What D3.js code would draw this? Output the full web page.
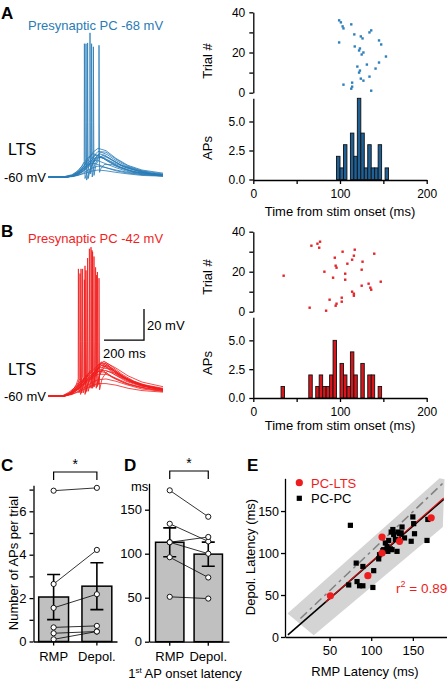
<!DOCTYPE html>
<html><head><meta charset="utf-8">
<script src="https://cdn.jsdelivr.net/npm/d3@7"></script>
<style>body{margin:0;background:#fff}svg{display:block;font-family:"Liberation Sans",Arial,sans-serif}</style>
</head><body><svg id="c" width="447" height="683"></svg>
<script>
// ---------------- DATA ----------------
// Panel A/B voltage traces: subthreshold traces sampled at shared times (ms, mV)
const subTimes = [0,80,120,150,175,200,225,250,290,340,400,470,575];
const subA = [
  [-60,-60,-59,-57,-54,-49,-44,-41.5,-43,-48,-52.5,-55.5,-57.5],
  [-60,-60.3,-59.5,-57.5,-55,-51,-47,-43.5,-44,-48.5,-53,-56,-58],
  [-60,-59.8,-58.5,-56,-52,-47.5,-45,-46,-49,-52.5,-55.5,-57.5,-58.5],
  [-60,-60,-59.5,-58,-56,-52,-48.5,-47,-48.5,-51.5,-54.5,-57,-58.5],
  [-60,-60.2,-59.5,-58.5,-56.5,-53,-49.5,-49.5,-51.5,-54,-56.5,-58,-59],
  [-60,-59.8,-59,-57.5,-55,-52,-51,-52,-54,-56,-57.5,-58.5,-59.2],
  [-60,-60,-59.8,-59,-57.5,-55.5,-54,-53,-54,-55.5,-57,-58.5,-59.3],
  [-60,-60,-59.5,-58.8,-58,-57,-56,-55.5,-56,-57,-58,-59,-59.5]
];
const subB = [
  [-60,-60,-58,-55,-52,-48.5,-45,-42,-41,-44.5,-49,-52.5,-55],
  [-60,-59.8,-57.5,-54.5,-51,-47,-43.5,-40,-38.5,-42,-47,-51,-54],
  [-60,-60,-58.5,-56,-53.5,-50.5,-48,-46,-46,-48.5,-52,-54.5,-56.5],
  [-60,-60.2,-59,-57,-55,-53,-51,-49.5,-49,-50.5,-53,-55.5,-57],
  [-60,-60,-58,-55.5,-52.5,-49.5,-46.5,-44,-43.5,-46.5,-50.5,-53.5,-55.5],
  [-60,-59.8,-58.8,-57.5,-56,-54.5,-53,-52,-52,-53,-55,-56.5,-57.5]
];
// spiking traces: [ms, mV] points
const spikeA = [
  [[0,-60],[80,-60],[120,-59],[150,-56],[170,-53],[181,-50],[182,26],[183.5,-25],[185,-61],[195,-57],[210,-51],[235,-46],[265,-47],[300,-50],[350,-53.5],[420,-56.5],[500,-58],[575,-59]],
  [[0,-60],[90,-60.3],[125,-59],[155,-56],[180,-52.5],[189,-50],[190,26],[191.5,-25],[193,-62],[200,-59],[215,-53],[240,-48],[270,-47],[310,-50],[360,-53.5],[430,-56.5],[510,-58],[575,-59]],
  [[0,-60],[85,-60],[125,-59.5],[160,-56],[185,-52],[197,-49],[198,26.5],[199.5,-25],[201,-61],[210,-56],[230,-49],[255,-45],[285,-46],[320,-49],[370,-52.5],[440,-55.5],[510,-57.5],[575,-58.5]],
  [[0,-60],[90,-60],[130,-59],[165,-55.5],[195,-51],[209,-48],[210,33],[211.5,-25],[213,-58],[220,-53],[240,-47],[265,-44],[295,-45.5],[335,-49],[390,-53],[450,-55.5],[520,-57.5],[575,-58.5]],
  [[0,-60],[95,-60],[135,-59],[170,-56],[200,-51.5],[217,-48],[218,26],[219.5,-25],[221,-60],[230,-53],[250,-48],[275,-46],[310,-48],[360,-52],[420,-55],[490,-57.5],[575,-58.5]],
  [[0,-60],[90,-60.2],[140,-59],[175,-56],[205,-52],[226,-48],[227,24],[228.5,-25],[230,-59],[240,-52],[260,-47.5],[290,-47],[330,-50],[380,-53.5],[450,-56],[520,-58],[575,-59]],
  [[0,-60],[95,-60],[140,-59],[180,-56],[215,-52],[240,-49],[254,-47],[255,25],[256.5,-25],[258,-57],[262,-55],[280,-52],[320,-52],[370,-54.5],[430,-57],[500,-58.5],[575,-59.5]]
];
const spikeB = [
  [[0,-60],[70,-60],[100,-59],[125,-56],[140,-53],[151,-49],[152,22],[153.5,-25],[155,-58],[165,-53],[185,-48],[205,-45],[214,-43],[215,36],[216.5,-25],[218,-55],[230,-47],[250,-42],[280,-44],[320,-48],[380,-51.5],[450,-54],[520,-55.5],[575,-56.5]],
  [[0,-60],[75,-60.3],[105,-58.5],[130,-55],[150,-51.5],[159,-49],[160,19],[161.5,-25],[163,-59],[175,-53],[200,-47],[222,-43],[223,33],[224.5,-25],[226,-54],[240,-45],[260,-40],[290,-41],[330,-46],[390,-50.5],[460,-53.5],[575,-56]],
  [[0,-60],[70,-60],[110,-58],[135,-55.5],[160,-51],[172,-48],[173,22],[174.5,-25],[176,-58],[190,-51],[210,-46],[229,-43],[230,30],[231.5,-25],[233,-54],[245,-44],[265,-38],[300,-40],[340,-45],[400,-50],[470,-53.5],[575,-56]],
  [[0,-60],[80,-60],[115,-58],[140,-55],[165,-51.5],[181,-48],[182,15],[183.5,-25],[185,-59],[200,-52],[225,-47],[255,-44],[290,-45],[340,-49],[400,-52.5],[480,-55],[575,-57]],
  [[0,-60],[75,-60],[110,-58.5],[140,-55],[170,-51],[189,-47.5],[190,21],[191.5,-25],[193,-57],[205,-50],[230,-45],[246,-42],[247,20],[248.5,-25],[250,-53],[262,-44],[285,-39],[320,-42],[370,-47],[430,-51],[500,-54],[575,-56]],
  [[0,-60],[80,-60.2],[115,-58.5],[145,-55.5],[175,-51],[197,-47],[198,29],[199.5,-25],[201,-57],[215,-50],[240,-44],[270,-40],[310,-43],[360,-47.5],[420,-51],[500,-54],[575,-56]],
  [[0,-60],[70,-60],[105,-57.5],[135,-54.5],[170,-50],[206,-45],[207,35],[208.5,-25],[210,-55],[225,-46],[250,-40],[280,-37.5],[320,-41],[370,-46],[430,-50.5],[500,-53.5],[575,-55.5]],
  [[0,-60],[85,-60],[120,-58.5],[150,-55.5],[185,-51],[215,-47],[237,-44],[238,23],[239.5,-25],[241,-55],[255,-47],[280,-42],[320,-43],[370,-47.5],[430,-51],[500,-54],[575,-56]],
  [[0,-60],[80,-60],[120,-58.5],[155,-55],[190,-51],[225,-47],[254,-44],[255,16],[256.5,-25],[258,-56],[270,-49],[295,-44],[330,-45],[380,-48.5],[440,-52],[510,-54.5],[575,-56]],
  [[0,-60],[75,-60],[110,-58],[140,-54.5],[164,-50],[165,22],[166.5,-25],[168,-58],[180,-51],[200,-46],[219,-43],[220,34],[221.5,-25],[223,-55],[240,-44],[265,-39],[300,-41],[350,-46],[420,-51],[500,-54],[575,-56]],
  [[0,-60],[80,-60.2],[115,-58],[145,-55],[170,-51],[184,-48],[185,24],[186.5,-25],[188,-58],[200,-51],[225,-45.5],[242,-43],[243,18],[244.5,-25],[246,-54],[260,-45],[290,-40],[330,-43],[390,-48.5],[460,-52.5],[575,-55.5]]
];
const scaleBarTime = [280, 480];   // 200 ms
const scaleBarVolt = [-23.9, -3.9]; // 20 mV

// Raster (time ms, trial #)
const rasterTimeA  = [99,101,103,104,113,99,116.5,124,126,134,136,145,147.5,117,123,122,127,125,153,120,131,141,145,123,122,134,124,127,104,114,114,113,136];
const rasterTrialA = [36,35,33,32,34,25,29,28,27,30,31,26,24,23,22,21,20,19,18,13,14,12,15,11,10,8,7,6,4,5,3,2,1];
const rasterTimeB  = [35,67,74,77,76,65,82,88,84,92,94,95,96,95,96,103,102,102,106,106,108.5,114,116,117,114,116,116,126,125,125,133,135,136,139.5,147];
const rasterTrialB = [18,33,34,35,32,2,20,6,0.5,17,27,23,22,3,4,30,7,5,19,16,24,26,28,31,10,9,8,25,21,13,14,12,11,29,15];

// Histograms (bin start ms, 4 ms bins; AP counts)
const binWidth = 4;
const histBinsA   = [96,100,104,108,112,116,120,124,128,132,136,140,144,148,152];
const histCountsA = [2,1,3,0,4,2,7,4,1,3,1,1,3,0,1];
const histBinsB   = [32,64,68,72,76,80,84,88,92,96,100,104,108,112,116,120,124,128,132,136,140,144];
const histCountsB = [1,2,0,1,2,1,1,2,5,0,3,2,1,4,2,0,3,0,2,2,0,1];

// Panel C
const conds = ["RMP","Depol."];
const cRMP = [6.95,2.65,1.55,0.65,0.38,0.1];
const cDep = [7.08,4.22,2.18,0.72,0.46,0.46];
const cMean = [2.05,2.55];
const cSem  = [1.04,1.08];
// Panel D
const dRMP = [172,134,113,113,96,51];
const dDep = [142,114,119,100,73,49];
const dMean = [113,99.5];
const dSem  = [16.4,13.7];
// Panel E
const ltsRMP = [51,96,113,113,134,172];
const ltsDep = [49,73,119,100,114,142];
const ppRMP = [75,73,82,83,86,90,90,103,102,109,110,114,117,119,120,121,123,124,126,125,129,131,132,134,137,140,148,150,151,152,167,168,115,127,136];
const ppDep = [133,62,88,66,61,61,84,79,59,93,98,103,112,108,102,115,105,125,128,104,116,102,125,123,131,118,114,143,135,123,115,140,104,122,124];
const bandX = [-0.5,182,188,186,31];
const bandY = [28,189,188,131,2];
const fitAllX = [0,187], fitAllY = [2.5,164];
const fitLtsX = [45,187], fitLtsY = [41.5,165.5];
const unityX = [15,187], unityY = [22,184];

// ---------------- DRAW ----------------
const svg = d3.select('#c');
const FONT = '"Liberation Sans",Arial,sans-serif';
const BLUE = '#2a7bb6', RED = '#f01e1e';

function text(x,y,s,o={}){
  const t = svg.append('text').attr('x',x).attr('y',y).text(s)
    .attr('font-size',o.fs||13).attr('fill',o.fill||'#000')
    .attr('text-anchor',o.anchor||'start').attr('font-weight',o.fw||'normal');
  if(o.rot!==undefined) t.attr('transform',`rotate(${o.rot},${x},${y})`);
  return t;
}
function styleAxis(g,fs){
  g.attr('font-family',FONT).attr('font-size',fs);
  g.select('.domain').attr('stroke','#000').attr('stroke-width',1.3);
  g.selectAll('.tick line').attr('stroke','#000').attr('stroke-width',1.3);
  g.selectAll('.tick text').attr('fill','#000');
}

// ---- traces ----
const tx = d3.scaleLinear().domain([0,575]).range([48,163]);
const tyA = d3.scaleLinear().domain([-60,33]).range([177,177-1.55*93]);
const tyB = d3.scaleLinear().domain([-60,36]).range([396,396-1.55*96]);
function drawTraces(subs,spikes,ty,color){
  const line = d3.line().x(d=>tx(d[0])).y(d=>ty(d[1]));
  const g = svg.append('g').attr('fill','none').attr('stroke',color).attr('stroke-width',0.8).attr('stroke-linejoin','round');
  subs.forEach(vs=>g.append('path').attr('d',line(subTimes.map((t,i)=>[t,vs[i]]))));
  spikes.forEach(p=>g.append('path').attr('d',line(p)));
}
drawTraces(subA,spikeA,tyA,BLUE);
drawTraces(subB,spikeB,tyB,RED);
// scale bar
svg.append('path').attr('fill','none').attr('stroke','#000').attr('stroke-width',1.3)
  .attr('d',`M${tx(scaleBarTime[0])},${tyB(scaleBarVolt[0])}H${tx(scaleBarTime[1])}V${tyB(scaleBarVolt[1])}`);
text(147,329.5,'20 mV');
text(103,358,'200 ms');

text(1,18.5,'A',{fs:17,fw:'bold'});
text(28,29.5,'Presynaptic PC -68 mV',{fill:BLUE});
text(8,155,'LTS',{fs:16});
text(4,181.5,'-60 mV');
text(1,237,'B',{fs:17,fw:'bold'});
text(28,243,'Presynaptic PC -42 mV',{fill:RED});
text(8,375,'LTS',{fs:16});
text(4,400.5,'-60 mV');

// ---- raster + hist ----
const timeX = d3.scaleLinear().domain([0,200]).range([253.3,426.7]);
function rasterPanel(times,trials,bins,counts,trialRange,histRange,axisY,dotColor,barColor,titleY,trialLblY,apLblY){
  const ty = d3.scaleLinear().domain([0,40]).range(trialRange);
  const hy = d3.scaleLinear().domain([0,7]).range(histRange);
  svg.append('g').selectAll('rect').data(times).join('rect')
    .attr('x',(d)=>timeX(d)-1.2).attr('y',(d,i)=>ty(trials[i])-1.2)
    .attr('width',2.4).attr('height',2.4).attr('fill',dotColor);
  svg.append('g').selectAll('rect').data(bins.filter((b,i)=>counts[i]>0)).join('rect')
    .attr('x',d=>timeX(d)).attr('width',d=>timeX(d+binWidth)-timeX(d))
    .attr('y',d=>hy(counts[bins.indexOf(d)])).attr('height',d=>hy(0)-hy(counts[bins.indexOf(d)]))
    .attr('fill',barColor).attr('stroke','#111').attr('stroke-width',0.9);
  const ga = svg.append('g').attr('transform',`translate(253.3,0)`)
    .call(d3.axisLeft(ty).tickValues([0,10,20,30,40]).tickFormat(d=>d%20===0?d:'').tickSize(4).tickSizeOuter(0).tickPadding(4));
  styleAxis(ga,12);
  const gh = svg.append('g').attr('transform',`translate(253.3,0)`)
    .call(d3.axisLeft(hy).tickValues([0,2.5,5]).tickFormat(d3.format('.1f')).tickSize(4).tickSizeOuter(0).tickPadding(4));
  styleAxis(gh,12);
  const gx = svg.append('g').attr('transform',`translate(0,${axisY})`)
    .call(d3.axisBottom(timeX).tickValues([0,50,100,150,200]).tickFormat(d=>d%100===0?d:'').tickSize(4).tickSizeOuter(0).tickPadding(5.5));
  styleAxis(gx,12);
  text(340,titleY,'Time from stim onset (ms)',{anchor:'middle'});
  text(212,trialLblY,'Trial #',{anchor:'middle',rot:-90});
  text(212,apLblY,'APs',{anchor:'middle',rot:-90});
}
rasterPanel(rasterTimeA,rasterTrialA,histBinsA,histCountsA,[92.7,12.3],[179.5,98.3],180,'#2f80ba','#1f6096',216,61,148);
rasterPanel(rasterTimeB,rasterTrialB,histBinsB,histCountsB,[311.7,231.7],[398,317.3],398,'#e3262b','#d8161c',430,277,363);

// ---- bar panels ----
function barPanel(opt){
  const x = d3.scaleBand().domain(conds).range(opt.xr).paddingInner(opt.pi).paddingOuter(opt.po);
  const y = d3.scaleLinear().domain(opt.yd).range(opt.yr);
  const g = svg.append('g');
  g.selectAll('rect').data(opt.mean).join('rect')
    .attr('x',(d,i)=>x(conds[i])).attr('width',x.bandwidth())
    .attr('y',d=>y(d)).attr('height',d=>y(0)-y(d))
    .attr('fill','#c0c0c0').attr('stroke','#000').attr('stroke-width',1.5);
  const cx = i=>x(conds[i])+x.bandwidth()/2;
  opt.mean.forEach((m,i)=>{
    const lo=y(m-opt.sem[i]), hi=y(m+opt.sem[i]);
    g.append('path').attr('fill','none').attr('stroke','#000').attr('stroke-width',1.6)
      .attr('d',`M${cx(i)},${lo}V${hi}M${cx(i)-6.5},${lo}H${cx(i)+6.5}M${cx(i)-6.5},${hi}H${cx(i)+6.5}`);
  });
  opt.a.forEach((v,k)=>{
    g.append('line').attr('x1',cx(0)).attr('y1',y(v)).attr('x2',cx(1)).attr('y2',y(opt.b[k]))
      .attr('stroke','#000').attr('stroke-width',0.8);
  });
  opt.a.forEach((v,k)=>{
    [[0,v],[1,opt.b[k]]].forEach(([i,val])=>g.append('circle').attr('cx',cx(i)).attr('cy',y(val)).attr('r',2.6)
      .attr('fill','#fff').attr('stroke','#000').attr('stroke-width',0.9));
  });
  const gy = svg.append('g').attr('transform',`translate(${opt.xr[0]},0)`)
    .call(d3.axisLeft(y).tickValues(opt.ticks).tickFormat(opt.tf).tickSize(4).tickSizeOuter(0).tickPadding(3));
  styleAxis(gy,13);
  const gx = svg.append('g').attr('transform',`translate(0,${y(0)})`)
    .call(d3.axisBottom(x).tickSize(4).tickSizeOuter(0).tickPadding(6));
  styleAxis(gx,13);
  // significance bracket
  svg.append('path').attr('fill','none').attr('stroke','#000').attr('stroke-width',1.2)
    .attr('d',`M${cx(0)},${opt.brY+8}V${opt.brY}H${cx(1)}V${opt.brY+8}`);
  text((cx(0)+cx(1))/2,opt.brY-3,'*',{anchor:'middle',fs:14});
}
barPanel({xr:[33.5,117],pi:0.31,po:0.12,yd:[0,7.2],yr:[641.5,641.5-7.2*21.7],mean:cMean,sem:cSem,a:cRMP,b:cDep,
  ticks:[0,1,2,3,4,5,6,7],tf:d=>d%2===0?d:'',brY:472});
barPanel({xr:[149,229],pi:0.264,po:0.17,yd:[0,180],yr:[641.7,641.7-180*0.88],mean:dMean,sem:dSem,a:dRMP,b:dDep,
  ticks:[0,50,100,150],tf:d=>d,brY:471});
text(1,471,'C',{fs:17,fw:'bold'});
text(124,471,'D',{fs:17,fw:'bold'});
text(247,471,'E',{fs:17,fw:'bold'});
text(18,563,'Number of APs per trial',{anchor:'middle',rot:-90,fs:13});
text(131,491,'ms');
const lat = text(185,678,'1',{anchor:'middle'});
lat.append('tspan').attr('font-size',8).attr('dy',-5).text('st');
lat.append('tspan').attr('dy',5).text(' AP onset latency');

// ---- scatter E ----
const ex = d3.scaleLinear().domain([-3.5,191]).range([285,447]);
const ey = d3.scaleLinear().domain([0,189]).range([637,478.3]);
svg.append('path').attr('fill','#d4d4d4')
  .attr('d',d3.line()(bandX.map((v,i)=>[ex(v),ey(bandY[i])]))+'Z');
svg.append('line').attr('x1',ex(unityX[0])).attr('y1',ey(unityY[0])).attr('x2',ex(unityX[1])).attr('y2',ey(unityY[1]))
  .attr('stroke','#808080').attr('stroke-width',1.5).attr('stroke-dasharray','9,4,3,4');
svg.append('line').attr('x1',ex(fitAllX[0])).attr('y1',ey(fitAllY[0])).attr('x2',ex(fitAllX[1])).attr('y2',ey(fitAllY[1]))
  .attr('stroke','#000').attr('stroke-width',1.6);
svg.append('line').attr('x1',ex(fitLtsX[0])).attr('y1',ey(fitLtsY[0])).attr('x2',ex(fitLtsX[1])).attr('y2',ey(fitLtsY[1]))
  .attr('stroke','#e01010').attr('stroke-width',1.1);
svg.append('g').selectAll('rect').data(ppRMP).join('rect')
  .attr('x',d=>ex(d)-2.6).attr('y',(d,i)=>ey(ppDep[i])-2.6).attr('width',5.2).attr('height',5.2).attr('fill','#000');
svg.append('g').selectAll('circle').data(ltsRMP).join('circle')
  .attr('cx',d=>ex(d)).attr('cy',(d,i)=>ey(ltsDep[i])).attr('r',3.6).attr('fill','#ee1c1c');
const gey = svg.append('g').attr('transform','translate(285,0)')
  .call(d3.axisLeft(ey).tickValues([0,50,100,150]).tickSize(4).tickSizeOuter(0).tickPadding(2));
styleAxis(gey,12.5);
const gex = svg.append('g').attr('transform','translate(0,637)')
  .call(d3.axisBottom(ex).tickValues([50,100,150]).tickSize(4).tickSizeOuter(0).tickPadding(5));
styleAxis(gex,13);
svg.append('circle').attr('cx',299.3).attr('cy',482.7).attr('r',3.6).attr('fill','#ee1c1c');
text(311,487.5,'PC-LTS',{fill:'#ee1c1c'});
svg.append('rect').attr('x',296.7).attr('y',495.7).attr('width',5.2).attr('height',5.2).attr('fill','#000');
text(311,503,'PC-PC');
const r2 = text(396,593,'r',{fill:'#ee1c1c',fs:13.5});
r2.append('tspan').attr('font-size',9).attr('dy',-6).text('2');
r2.append('tspan').attr('dy',6).text(' = 0.89');
text(255,557,'Depol. Latency (ms)',{anchor:'middle',rot:-90});
text(365,676,'RMP Latency (ms)',{anchor:'middle'});
</script></body></html>
